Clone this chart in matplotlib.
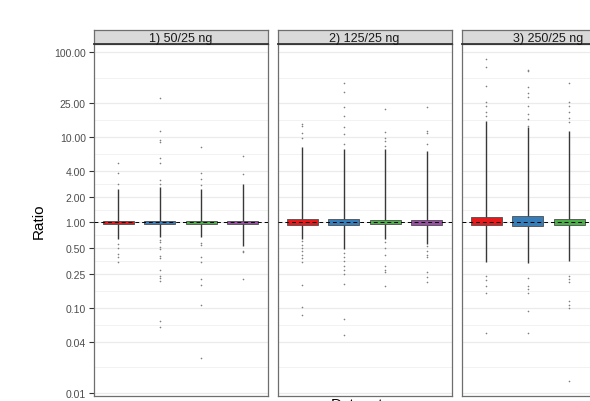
import numpy as np
import matplotlib.pyplot as plt
from matplotlib.ticker import FixedLocator, NullLocator, NullFormatter

plt.rcParams["font.family"] = ["Liberation Sans", "DejaVu Sans"]

# -----------------------------
# Data
# -----------------------------
facet_titles = ["1) 50/25 ng", "2) 125/25 ng", "3) 250/25 ng"]
box_colors = ["#E41A1C", "#377EB8", "#4DAF4A", "#984EA3"]
y_ticks = [0.01, 0.04, 0.10, 0.25, 0.50, 1.00, 2.00, 4.00, 10.00, 25.00, 100.00]

# box quartiles per facet (one value per dataset colour)
q1_p1 = [0.95, 0.95, 0.95, 0.95]
q3_p1 = [1.05, 1.05, 1.05, 1.05]
q1_p2 = [0.94, 0.94, 0.955, 0.93]
q3_p2 = [1.10, 1.11, 1.08, 1.07]
q1_p3 = [0.93, 0.92, 0.94]
q3_p3 = [1.16, 1.18, 1.11]

# extent of the dense run of points around each box
dense_lo_p1 = [0.64, 0.67, 0.67, 0.53]
dense_hi_p1 = [2.46, 2.6, 2.46, 2.82]
dense_lo_p2 = [0.64, 0.49, 0.64, 0.56]
dense_hi_p2 = [7.6, 7.2, 7.2, 6.9]
dense_lo_p3 = [0.345, 0.33, 0.355]
dense_hi_p3 = [15.6, 13.0, 11.9]

# single outlying points
out_p1 = [
    [5.0, 3.79, 2.82, 0.556, 0.495, 0.425, 0.39, 0.345],
    [28.5, 11.7, 9.2, 8.7, 5.7, 4.96, 3.16, 2.82, 0.625, 0.587, 0.513, 0.485,
     0.405, 0.38, 0.278, 0.235, 0.222, 0.206, 0.069, 0.059],
    [7.6, 3.79, 3.22, 2.74, 0.575, 0.54, 0.395, 0.345, 0.216, 0.183, 0.107, 0.026],
    [6.05, 3.72, 0.464, 0.444, 0.216],
]
out_p2 = [
    [14.2, 13.6, 11.2, 9.9, 0.61, 0.55, 0.5, 0.46, 0.42, 0.38, 0.345, 0.187,
     0.102, 0.081],
    [42.8, 33.6, 22.4, 17.8, 13.0, 10.9, 8.3, 0.44, 0.39, 0.35, 0.31, 0.28,
     0.247, 0.19, 0.073, 0.048],
    [21.4, 11.6, 9.9, 9.1, 7.9, 0.59, 0.5, 0.42, 0.31, 0.28, 0.26, 0.18],
    [22.4, 11.9, 11.2, 8.3, 0.53, 0.46, 0.42, 0.39, 0.26, 0.23, 0.2],
]
out_p3 = [
    [82.6, 66.0, 39.5, 26.0, 23.4, 19.5, 17.5, 0.236, 0.21, 0.18, 0.148, 0.05],
    [62.0, 59.0, 38.4, 33.0, 29.3, 23.0, 18.8, 16.3, 13.6, 0.22, 0.18, 0.165,
     0.15, 0.092, 0.051],
    [43.0, 26.0, 23.4, 19.5, 17.0, 14.9, 0.236, 0.215, 0.2, 0.12, 0.108,
     0.098, 0.0138],
]

q1_all = [q1_p1, q1_p2, q1_p3]
q3_all = [q3_p1, q3_p2, q3_p3]
lo_all = [dense_lo_p1, dense_lo_p2, dense_lo_p3]
hi_all = [dense_hi_p1, dense_hi_p2, dense_hi_p3]
out_all = [out_p1, out_p2, out_p3]

# -----------------------------
# Layout (pixels of a 590x402 canvas)
# -----------------------------
W, H = 590, 402
fig = plt.figure(figsize=(W / 100, H / 100), dpi=100)

panel_left = 93.5
panel_w = 174
gap = 10
panel_top = 45
panel_bottom = 397
strip_top = 31

minor_ticks = [np.sqrt(a * b) for a, b in zip(y_ticks[:-1], y_ticks[1:])]

for k in range(3):
    x0 = panel_left + k * (panel_w + gap)
    ax = fig.add_axes([x0 / W, 1 - panel_bottom / H, panel_w / W,
                       (panel_bottom - panel_top) / H])
    ax.set_yscale("log", base=2)
    ax.set_ylim(0.0092, 124)
    ax.set_xlim(0.4, 4.6)

    ax.yaxis.set_major_locator(FixedLocator(y_ticks))
    ax.yaxis.set_minor_locator(FixedLocator(minor_ticks))
    ax.yaxis.set_minor_formatter(NullFormatter())
    ax.xaxis.set_major_locator(NullLocator())
    ax.grid(True, which="major", axis="y", color="#EBEBEB", lw=0.9)
    ax.grid(True, which="minor", axis="y", color="#F0F0F0", lw=0.6)
    ax.set_axisbelow(True)

    for i in range(len(q1_all[k])):
        xi = i + 1
        # dense run of points / whisker
        ax.plot([xi, xi], [lo_all[k][i], hi_all[k][i]], color="#383838",
                lw=1.0, zorder=2, solid_capstyle="butt")
        ax.scatter([xi] * len(out_all[k][i]), out_all[k][i], s=1.4,
                   color="#808080", lw=0, zorder=2)
        # box
        ax.bar(xi, q3_all[k][i] - q1_all[k][i], bottom=q1_all[k][i],
               width=0.75, color=box_colors[i], edgecolor="#4D4D4D",
               lw=0.6, zorder=3)

    ax.axhline(1.0, color="black", lw=0.7, ls=(0, (4, 3)), zorder=4)

    for s in ax.spines.values():
        s.set_color("#6E6E6E")
        s.set_linewidth(0.9)

    if k == 0:
        ax.set_yticklabels(["%.2f" % v for v in y_ticks])
        ax.tick_params(axis="y", which="major", length=3.5, width=0.8,
                       color="#333333", labelcolor="#4D4D4D", labelsize=7.5,
                       pad=2)
        ax.tick_params(axis="y", which="minor", length=0)
        ax.set_ylabel("Ratio", fontsize=11, labelpad=6)
    else:
        ax.tick_params(axis="y", which="both", length=0, labelleft=False)

    # facet strip
    sax = fig.add_axes([x0 / W, 1 - panel_top / H, panel_w / W,
                        (panel_top - strip_top) / H])
    sax.set_facecolor("#D9D9D9")
    sax.set_xticks([])
    sax.set_yticks([])
    for s in sax.spines.values():
        s.set_color("#6E6E6E")
        s.set_linewidth(0.9)
    sax.spines["bottom"].set_color("#333333")
    sax.spines["bottom"].set_linewidth(1.3)
    sax.text(0.5, 0.45, facet_titles[k], ha="center", va="center",
             fontsize=9, color="#1A1A1A", transform=sax.transAxes)

# x axis title (cut off at the bottom, as in the reference)
fig.text(357 / W, 1 - 398.5 / H, "Dataset", ha="center", va="top",
         fontsize=11)

fig.savefig("out.png", dpi=100)
